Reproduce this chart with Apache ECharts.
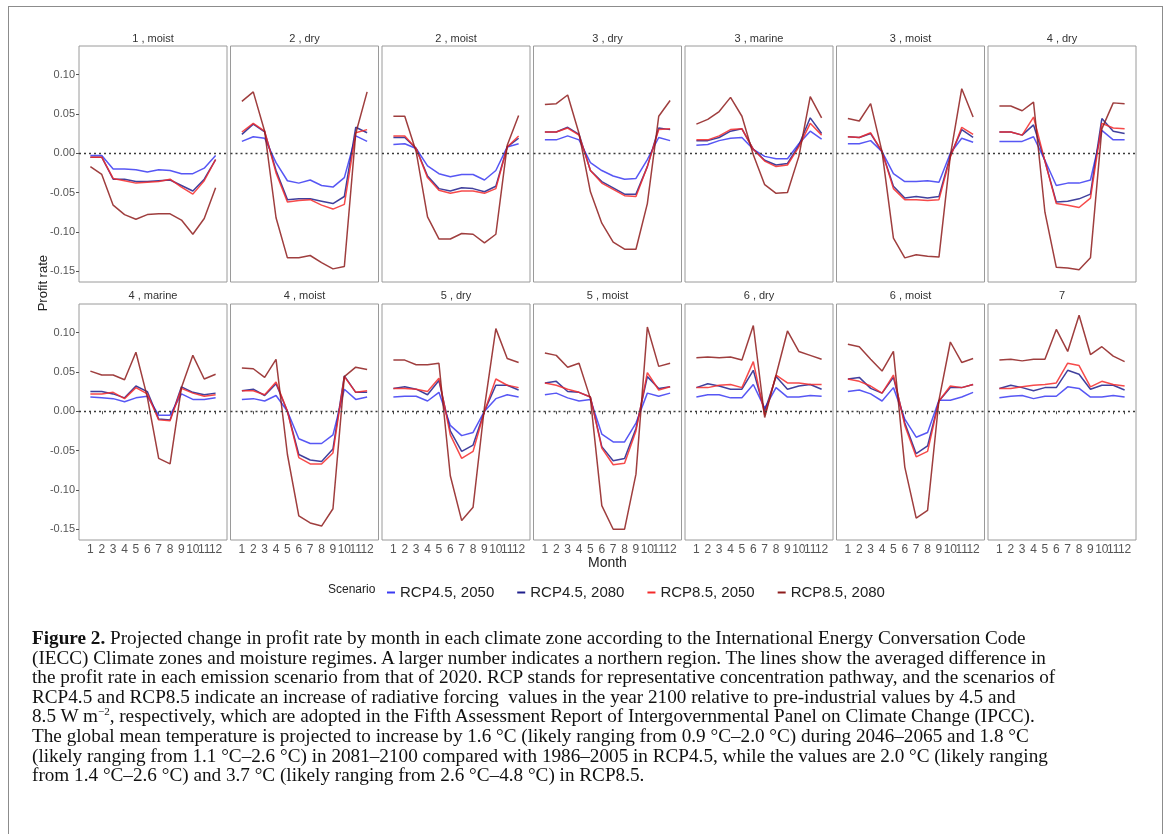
<!DOCTYPE html>
<html lang="en">
<head>
    <meta charset="utf-8">
    <title>Profit rate by month</title>
    <script src="https://cdn.jsdelivr.net/npm/echarts@6.0.0/dist/echarts.min.js"></script>
    <style>
        html, body { margin: 0; padding: 0; background: #fff; }
        #frame {
            position: absolute; left: 8px; top: 6px; width: 1153px; height: 840px;
            border: 1px solid #8c8c8c;
        }
        #chart { position: absolute; left: 0; top: 0; width: 1168px; height: 834px; }
        #caption {
            position: absolute; left: 32px; top: 628px;
            font-family: "Liberation Serif", "DejaVu Serif", serif;
            font-size: 19.2px; line-height: 19.6px; color: #111;
            white-space: nowrap;
        }
        #caption sup { font-size: 11px; line-height: 0; }
    </style>
</head>
<body>
<div id="frame"></div>
<div id="chart"></div>
<div id="caption">
<b>Figure 2.</b> Projected change in profit rate by month in each climate zone according to the International Energy Conversation Code<br>
(IECC) Climate zones and moisture regimes. A larger number indicates a northern region. The lines show the averaged difference in<br>
the profit rate in each emission scenario from that of 2020. RCP stands for representative concentration pathway, and the scenarios of<br>
RCP4.5 and RCP8.5 indicate an increase of radiative forcing&nbsp; values in the year 2100 relative to pre-industrial values by 4.5 and<br>
8.5 W m<sup>−2</sup>, respectively, which are adopted in the Fifth Assessment Report of Intergovernmental Panel on Climate Change (IPCC).<br>
The global mean temperature is projected to increase by 1.6 °C (likely ranging from 0.9 °C–2.0 °C) during 2046–2065 and 1.8 °C<br>
(likely ranging from 1.1 °C–2.6 °C) in 2081–2100 compared with 1986–2005 in RCP4.5, while the values are 2.0 °C (likely ranging<br>
from 1.4 °C–2.6 °C) and 3.7 °C (likely ranging from 2.6 °C–4.8 °C) in RCP8.5.
</div>

<script type="text/javascript">
    // panels (climate zone , moisture regime)
    var panels = ['1 , moist', '2 , dry', '2 , moist', '3 , dry', '3 , marine', '3 , moist', '4 , dry',
                  '4 , marine', '4 , moist', '5 , dry', '5 , moist', '6 , dry', '6 , moist', '7'];
    var months = [1, 2, 3, 4, 5, 6, 7, 8, 9, 10, 11, 12];
    var scenarios = ['RCP4.5, 2050', 'RCP4.5, 2080', 'RCP8.5, 2050', 'RCP8.5, 2080'];
    var yTicks = [-0.15, -0.10, -0.05, 0, 0.05, 0.10];

    // one row per panel, 12 months each
    var rcp45_2050 = [
        [-0.003,-0.003,-0.020,-0.020,-0.021,-0.024,-0.021,-0.022,-0.026,-0.026,-0.019,-0.003],
        [0.015,0.021,0.019,-0.012,-0.035,-0.038,-0.034,-0.041,-0.043,-0.031,0.022,0.015],
        [0.011,0.012,0.006,-0.016,-0.026,-0.030,-0.027,-0.027,-0.034,-0.022,0.008,0.012],
        [0.017,0.017,0.022,0.017,-0.012,-0.022,-0.029,-0.033,-0.032,-0.008,0.020,0.016],
        [0.010,0.011,0.016,0.019,0.020,0.005,-0.004,-0.007,-0.007,0.012,0.028,0.018],
        [0.012,0.012,0.016,0.002,-0.026,-0.036,-0.036,-0.035,-0.037,0.000,0.019,0.014],
        [0.015,0.015,0.015,0.021,-0.009,-0.041,-0.038,-0.038,-0.034,0.029,0.017,0.017],
        [0.018,0.017,0.016,0.012,0.017,0.019,-0.005,-0.005,0.022,0.015,0.015,0.017],
        [0.015,0.016,0.013,0.020,0.000,-0.035,-0.041,-0.041,-0.030,0.028,0.015,0.018],
        [0.018,0.019,0.019,0.013,0.024,-0.018,-0.031,-0.027,0.000,0.016,0.021,0.018],
        [0.021,0.023,0.017,0.013,0.015,-0.029,-0.039,-0.039,-0.015,0.023,0.019,0.023],
        [0.018,0.021,0.021,0.017,0.017,0.034,0.004,0.030,0.018,0.018,0.020,0.019],
        [0.025,0.027,0.022,0.013,0.030,-0.010,-0.033,-0.027,0.014,0.014,0.018,0.024],
        [0.017,0.019,0.020,0.016,0.019,0.019,0.031,0.029,0.018,0.018,0.020,0.018]
    ];
    var rcp45_2080 = [
        [-0.005,-0.005,-0.033,-0.033,-0.036,-0.036,-0.035,-0.034,-0.041,-0.048,-0.033,-0.008],
        [0.024,0.037,0.027,-0.022,-0.059,-0.058,-0.058,-0.061,-0.064,-0.055,0.033,0.026],
        [0.020,0.020,0.006,-0.029,-0.045,-0.048,-0.044,-0.045,-0.049,-0.042,0.008,0.019],
        [0.027,0.027,0.033,0.024,-0.022,-0.036,-0.044,-0.052,-0.052,-0.017,0.032,0.030],
        [0.016,0.016,0.020,0.028,0.031,0.005,-0.009,-0.015,-0.013,0.010,0.045,0.025],
        [0.021,0.020,0.025,0.002,-0.042,-0.057,-0.055,-0.057,-0.055,-0.003,0.030,0.020],
        [0.027,0.027,0.023,0.036,-0.010,-0.062,-0.061,-0.058,-0.052,0.044,0.028,0.025],
        [0.025,0.025,0.022,0.017,0.032,0.025,-0.010,-0.011,0.031,0.024,0.021,0.023],
        [0.026,0.028,0.020,0.035,0.000,-0.055,-0.062,-0.064,-0.048,0.045,0.024,0.024],
        [0.029,0.031,0.028,0.021,0.039,-0.025,-0.051,-0.043,0.000,0.033,0.033,0.027],
        [0.036,0.038,0.025,0.024,0.018,-0.045,-0.063,-0.060,-0.022,0.044,0.029,0.031],
        [0.030,0.035,0.032,0.028,0.028,0.052,0.000,0.044,0.028,0.032,0.034,0.028],
        [0.041,0.043,0.029,0.023,0.043,-0.015,-0.054,-0.044,0.013,0.030,0.030,0.034],
        [0.029,0.033,0.030,0.026,0.030,0.030,0.052,0.047,0.028,0.033,0.033,0.027]
    ];
    var rcp85_2050 = [
        [-0.005,-0.005,-0.032,-0.035,-0.038,-0.037,-0.036,-0.033,-0.043,-0.052,-0.035,-0.008],
        [0.027,0.038,0.028,-0.025,-0.062,-0.060,-0.059,-0.066,-0.071,-0.065,0.026,0.030],
        [0.022,0.022,0.006,-0.031,-0.047,-0.051,-0.048,-0.048,-0.051,-0.045,0.008,0.022],
        [0.027,0.027,0.032,0.023,-0.022,-0.038,-0.046,-0.054,-0.055,-0.017,0.030,0.031],
        [0.017,0.017,0.022,0.030,0.031,0.005,-0.010,-0.017,-0.015,0.008,0.038,0.023],
        [0.021,0.020,0.026,0.002,-0.045,-0.059,-0.059,-0.060,-0.059,-0.005,0.033,0.024],
        [0.027,0.027,0.023,0.046,-0.010,-0.064,-0.066,-0.069,-0.057,0.038,0.032,0.031],
        [0.022,0.022,0.024,0.016,0.030,0.022,-0.011,-0.012,0.029,0.023,0.019,0.021],
        [0.026,0.026,0.021,0.037,0.000,-0.059,-0.067,-0.067,-0.053,0.044,0.024,0.026],
        [0.029,0.029,0.028,0.025,0.042,-0.030,-0.060,-0.051,0.000,0.041,0.033,0.030],
        [0.036,0.033,0.028,0.024,0.018,-0.047,-0.068,-0.066,-0.025,0.049,0.027,0.031],
        [0.030,0.030,0.033,0.034,0.030,0.063,-0.005,0.046,0.036,0.036,0.034,0.034],
        [0.041,0.038,0.032,0.023,0.046,-0.018,-0.058,-0.051,0.013,0.032,0.030,0.034],
        [0.029,0.029,0.031,0.033,0.034,0.036,0.061,0.058,0.031,0.038,0.034,0.032]
    ];
    var rcp85_2080 = [
        [-0.017,-0.027,-0.066,-0.078,-0.084,-0.078,-0.077,-0.077,-0.085,-0.103,-0.083,-0.044],
        [0.066,0.078,0.028,-0.082,-0.133,-0.133,-0.130,-0.139,-0.147,-0.144,0.025,0.078],
        [0.047,0.047,0.002,-0.081,-0.109,-0.109,-0.102,-0.103,-0.114,-0.103,0.010,0.048],
        [0.062,0.063,0.074,0.025,-0.049,-0.089,-0.113,-0.122,-0.122,-0.064,0.047,0.067],
        [0.037,0.043,0.053,0.071,0.047,-0.002,-0.040,-0.051,-0.050,-0.004,0.072,0.045],
        [0.044,0.041,0.063,0.002,-0.108,-0.133,-0.129,-0.131,-0.132,-0.003,0.082,0.046],
        [0.060,0.060,0.054,0.065,-0.075,-0.145,-0.146,-0.148,-0.133,0.031,0.064,0.063],
        [0.051,0.046,0.046,0.040,0.075,0.018,-0.060,-0.067,0.030,0.071,0.041,0.047],
        [0.055,0.054,0.043,0.066,-0.055,-0.133,-0.142,-0.146,-0.124,0.044,0.056,0.053],
        [0.065,0.065,0.059,0.059,0.061,-0.082,-0.139,-0.122,0.005,0.105,0.067,0.062],
        [0.074,0.071,0.056,0.061,0.016,-0.120,-0.150,-0.150,-0.080,0.107,0.057,0.061],
        [0.068,0.069,0.068,0.069,0.065,0.109,-0.008,0.046,0.102,0.076,0.071,0.066],
        [0.085,0.082,0.066,0.051,0.076,-0.071,-0.136,-0.126,0.014,0.088,0.062,0.067],
        [0.065,0.066,0.064,0.066,0.066,0.104,0.076,0.122,0.072,0.082,0.070,0.063]
    ];

    var seriesData = [rcp45_2050, rcp45_2080, rcp85_2050, rcp85_2080];
    var colors = ['#3a3af2', '#1f1f8c', '#f42a2a', '#8e1c1c'];

    var myChart = echarts.init(document.getElementById('chart'));

    // an empty label at 13 stops the axis from dropping "11" next to "12"
    var xLabelValues = months.concat([13]);

    var grids = [], xAxes = [], yAxes = [], titles = [], series = [];
    panels.forEach(function (name, i) {
        var row = Math.floor(i / 7), col = i % 7;
        var left = 79 + col * 151.5;
        var top = row === 0 ? 46 : 304;
        grids.push({
            left: left, top: top, width: 148, height: 236,
            show: true, borderColor: '#9a9a9a', borderWidth: 1, backgroundColor: '#fff'
        });
        titles.push({
            text: name, left: left + 74, top: row === 0 ? 33 : 290, textAlign: 'center', padding: 0,
            textStyle: { fontFamily: 'Liberation Sans', fontSize: 11, fontWeight: 'normal', color: '#333' }
        });
        xAxes.push({
            type: 'value', gridIndex: i, min: 0, max: 13, interval: 1,
            axisLine: { show: false },
            splitLine: { show: false },
            axisTick: { show: row === 1, length: 3, lineStyle: { color: '#555' }, customValues: months },
            axisLabel: {
                show: row === 1, customValues: xLabelValues, margin: 4,
                showMinLabel: true, showMaxLabel: true, hideOverlap: false,
                fontFamily: 'Liberation Sans', fontSize: 12, color: '#555',
                formatter: function (v) { return v > 12 ? '' : String(v); }
            }
        });
        yAxes.push({
            type: 'value', gridIndex: i, min: -0.1637, max: 0.1363,
            axisLine: { show: false },
            splitLine: { show: false },
            axisTick: { show: col === 0, length: 3, lineStyle: { color: '#555' }, customValues: yTicks },
            axisLabel: {
                show: col === 0, customValues: yTicks, margin: 4,
                fontFamily: 'Liberation Sans', fontSize: 11, color: '#555',
                formatter: function (v) { return v.toFixed(2); }
            }
        });
        seriesData.forEach(function (arr, s) {
            var item = {
                name: scenarios[s], type: 'line', xAxisIndex: i, yAxisIndex: i,
                data: months.map(function (m, k) { return [m, arr[i][k]]; }),
                showSymbol: false, symbol: 'none',
                lineStyle: { color: colors[s], width: 1.5, opacity: 0.85 },
                itemStyle: { color: colors[s] }
            };
            if (s === 0) {
                item.markLine = {
                    silent: true, symbol: 'none', label: { show: false },
                    lineStyle: { type: [2, 3], color: '#3a3a3a', width: 1.4 },
                    data: [{ yAxis: 0 }]
                };
            }
            series.push(item);
        });
    });

    myChart.setOption({
        animation: false,
        title: titles,
        grid: grids,
        xAxis: xAxes,
        yAxis: yAxes,
        legend: {
            data: scenarios, left: 382, top: 580,
            icon: 'rect', itemWidth: 8, itemHeight: 2, itemGap: 23,
            textStyle: { fontFamily: 'Liberation Sans', fontSize: 15, color: '#222' }
        },
        graphic: [
            { type: 'text', left: 328, top: 584,
              style: { text: 'Scenario', font: '12px "Liberation Sans"', fill: '#222' } },
            { type: 'text', left: 37, top: 255, rotation: Math.PI / 2,
              style: { text: 'Profit rate', font: '13px "Liberation Sans"', fill: '#222' } },
            { type: 'text', left: 588, top: 556,
              style: { text: 'Month', font: '14px "Liberation Sans"', fill: '#222' } }
        ],
        series: series
    });
</script>
</body>
</html>
